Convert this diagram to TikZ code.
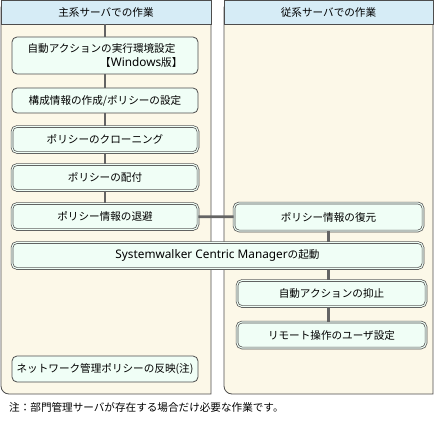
\documentclass[tikz,border=0pt]{standalone}
\usepackage{fontspec}
\setmainfont{Noto Sans CJK JP}
\newfontfamily\latinfont{Noto Sans}
\usetikzlibrary{positioning, calc}
\definecolor{lanecream}{RGB}{252, 248, 232}
\definecolor{headblue}{RGB}{214, 236, 246}
\definecolor{boxmint}{RGB}{240, 254, 246}
\definecolor{edgegray}{RGB}{77, 77, 77}
\definecolor{linkgray}{RGB}{100, 100, 100}
\tikzset{
	lane/.style={draw=edgegray, fill=lanecream, line width=0.8pt},
	header/.style={draw=edgegray, fill=headblue, line width=0.8pt, minimum height=24pt, inner sep=0pt},
	task/.style={draw=edgegray, fill=boxmint, rounded corners=5pt, line width=0.8pt,
		minimum width=186pt, minimum height=26pt, inner sep=2pt, text=black},
	subtask/.style={task, line width=0.7pt, double=boxmint, double distance=1.1pt},
	link/.style={draw=linkgray, line width=2.6pt}
}
\newcommand{\lat}[1]{{\latinfont\fontsize{11.8pt}{14pt}\selectfont #1}}

\begin{document}
\begin{tikzpicture}[
    x=1pt, y=-1pt,
    % Japanese text roughly at the size of the screenshot
    font=\fontsize{10.6pt}{14pt}\selectfont
]
\useasboundingbox (0,0) rectangle (435,422);

% --- LANES ---
\draw[lane] (106,0) -- (211,0) -- (211,394) [rounded corners=8pt] -- (1,394) -- (1,0) [sharp corners] -- cycle;
\draw[lane] (328,0) -- (433,0) -- (433,394) [rounded corners=8pt] -- (224,394) -- (224,0) [sharp corners] -- cycle;
\node[header, minimum width=210pt] (mainhead) at (106,12) {主系サーバでの作業};
\node[header, minimum width=209pt] (subhead) at (328.5,12) {従系サーバでの作業};

% --- LEFT SIDE: main server ---
\node[task, minimum height=37pt, align=right] (autoenv) at (105,55.5)
    {自動アクションの実行環境設定\hspace*{7pt}\\【\lat{Windows}版】};
\node[task, minimum height=25pt] (config) at (105,100.5) {構成情報の作成/ポリシーの設定};
\node[subtask] (clone) at (105,139.5) {ポリシーのクローニング};
\node[subtask] (deliver) at (105,177.5) {ポリシーの配付};
\node[subtask] (backup) at (105,216.5) {ポリシー情報の退避};
\node[task] (network) at (105,369) {ネットワーク管理ポリシーの反映(注)};

% --- RIGHT SIDE: sub server ---
\node[subtask, minimum width=189pt, minimum height=28pt] (restore) at (328.5,217) {ポリシー情報の復元};
\node[subtask, minimum width=411pt] (startup) at (217.5,255.5) {\lat{Systemwalker Centric Manager}の起動};
\node[subtask, minimum width=189pt] (suppress) at (331.5,293.5) {自動アクションの抑止};
\node[subtask, minimum width=189pt] (remote) at (331.5,335) {リモート操作のユーザ設定};

% --- CONNECTORS ---
\draw[link] (autoenv.north |- mainhead.south) -- (autoenv.north);
\draw[link] (autoenv) -- (config);
\draw[link] (config) -- (clone);
\draw[link] (clone) -- (deliver);
\draw[link] (deliver) -- (backup);
\draw[link] (backup) -- (restore);
\draw[link] (restore.south) -- (restore.south |- startup.north);
\draw[link] (restore.south |- startup.south) -- (restore.south |- suppress.north);
\draw[link] (restore.south |- suppress.south) -- (restore.south |- remote.north);

% --- NOTE ---
\node[anchor=west, inner sep=0pt] (note) at (9,407) {注：部門管理サーバが存在する場合だけ必要な作業です。};

\end{tikzpicture}
\end{document}
